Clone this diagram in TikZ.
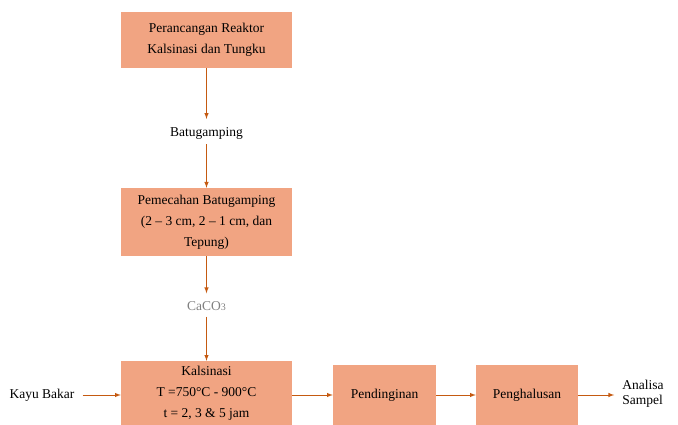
\documentclass[tikz,border=0pt]{standalone}
\usepackage{fontspec}
\setmainfont{Liberation Serif}
\tikzset{
  procbox/.style={fill={rgb,255:red,241;green,164;blue,130}, align=center, inner sep=0pt, font=\fontsize{13.5}{21}\selectfont},
  lbl/.style={align=center, inner sep=0pt, font=\fontsize{13.5}{16}\selectfont},
  flow/.style={draw={rgb,255:red,197;green,90;blue,17}, line width=1pt, -latex}
}
\begin{document}
\begin{tikzpicture}[x=1pt,y=-1pt]
\useasboundingbox (0,0) rectangle (678,425);
\node[procbox, minimum width=171pt, minimum height=56pt] (b1) at (206.5,40) {Perancangan Reaktor\\Kalsinasi dan Tungku};
\node[lbl] (bat) at (206.5,133) {Batugamping};
\node[procbox, minimum width=171pt, minimum height=68pt] (b2) at (206.5,222) {Pemecahan Batugamping\\(2 -- 3 cm, 2 -- 1 cm, dan\\Tepung)};
\node[lbl, text={rgb,255:red,128;green,128;blue,128}] (caco) at (206.5,306) {CaCO{\fontsize{10}{10}\selectfont 3}};
\node[procbox, minimum width=171pt, minimum height=64pt] (b3) at (206.5,393) {Kalsinasi\\T =750°C - 900°C\\t = 2, 3 \& 5 jam};
\node[lbl] (kayu) at (42,395) {Kayu Bakar};
\node[procbox, minimum width=103pt, minimum height=60pt] (b4) at (384.5,395) {Pendinginan};
\node[procbox, minimum width=102pt, minimum height=60pt] (b5) at (527,395) {Penghalusan};
\node[lbl, align=left, font=\fontsize{13.5}{15}\selectfont] (ana) at (643,394) {Analisa\\Sampel};
\draw[flow, shorten >=8pt] (b1) -- (bat);
\draw[flow, shorten <=5pt] (bat) -- (b2);
\draw[flow, shorten >=8pt] (b2) -- (caco);
\draw[flow, shorten <=6pt] (caco) -- (b3);
\draw[flow, shorten <=8pt] (kayu) -- (b3.west |- kayu);
\draw[flow] (b3.east |- b4) -- (b4);
\draw[flow] (b4) -- (b5);
\draw[flow, shorten >=8pt] (b5) -- (ana.west |- b5);
\end{tikzpicture}
\end{document}
